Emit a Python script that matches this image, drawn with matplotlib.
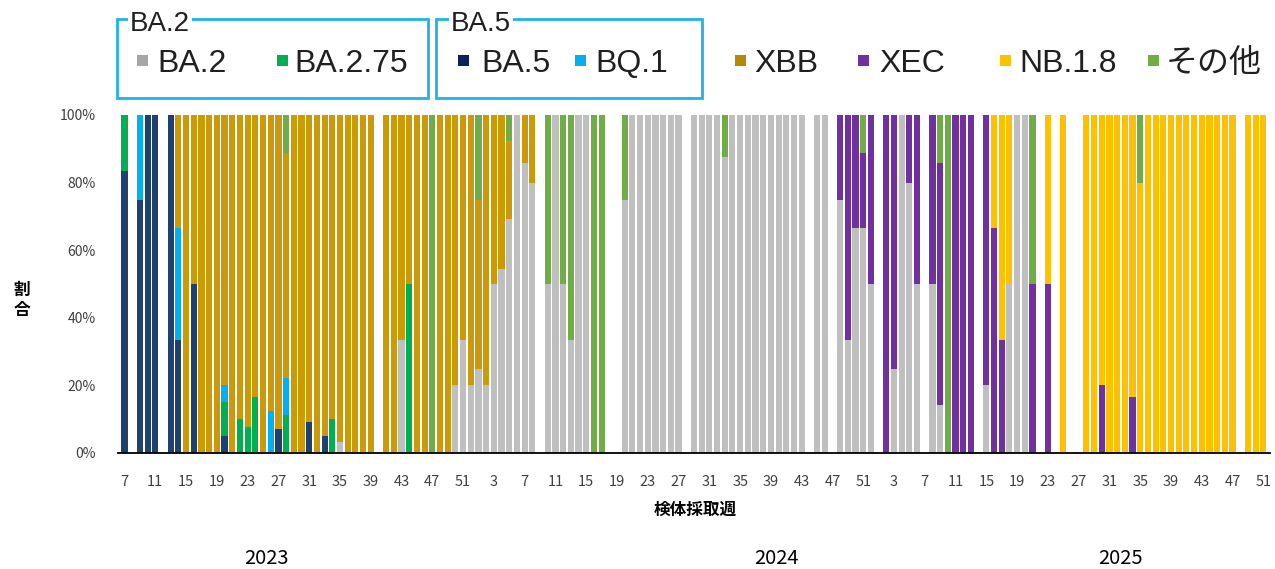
import matplotlib
matplotlib.use('Agg')
import matplotlib.pyplot as plt
import numpy as np
from matplotlib.patches import Rectangle

plt.rcParams['font.family'] = ['Noto Sans CJK JP', 'DejaVu Sans']

W, H = 1275, 569

# colours per lineage
colors = {
    'BA.2': '#BFBFBF',
    'BA.2.75': '#00B050',
    'BA.5': '#1F4170',
    'BQ.1': '#00B0F0',
    'XBB': '#CC9A06',
    'XEC': '#7030A0',
    'NB.1.8': '#FFC000',
    'その他': '#70AD47',
}
legend_colors = dict(colors, **{'BA.2': '#A6A6A6', 'BA.5': '#0D1F5C', 'XBB': '#B8860B'})
stack_order = ['BA.2', 'BA.5', 'BA.2.75', 'BQ.1', 'XBB', 'XEC', 'NB.1.8', 'その他']

# ---- 2023 (sampled weeks) ----
weeks_2023 = [7, 9, 10, 11, 13, 14,
              15, 16, 17, 18, 19, 20, 21, 22, 23, 24,
              25, 26, 27, 28, 29, 30, 31, 32, 33, 34,
              35, 36, 37, 38, 39,
              41, 42, 43, 44, 45, 46, 47, 48, 49, 50, 51, 52]
ba2_2023 = [0, 0, 0, 0, 0, 0,
            0, 0, 0, 0, 0, 0, 0, 0, 0, 0,
            0, 0, 0, 0, 0, 0, 0, 0, 0, 0,
            3.3, 0, 0, 0, 0,
            0, 0, 33.3, 0, 0, 0, 0, 0, 0, 20, 33.3, 20]
ba5_2023 = [83.3, 75, 100, 100, 100, 33.3,
            0, 50, 0, 0, 0, 5, 0, 0, 0, 0,
            0, 0, 7.1, 0, 0, 0, 9.1, 0, 5, 0,
            0, 0, 0, 0, 0,
            0, 0, 0, 0, 0, 0, 0, 0, 0, 0, 0, 0]
ba275_2023 = [16.7, 0, 0, 0, 0, 0,
              0, 0, 0, 0, 0, 10, 0, 10, 7.7, 16.7,
              0, 0, 0, 11.1, 0, 0, 0, 0, 0, 10,
              0, 0, 0, 0, 0,
              0, 0, 0, 50, 0, 0, 0, 0, 0, 0, 0, 0]
bq1_2023 = [0, 25, 0, 0, 0, 33.3,
            0, 0, 0, 0, 0, 5, 0, 0, 0, 0,
            0, 12.5, 0, 11.1, 0, 0, 0, 0, 0, 0,
            0, 0, 0, 0, 0,
            0, 0, 0, 0, 0, 0, 0, 0, 0, 0, 0, 0]
xbb_2023 = [0, 0, 0, 0, 0, 33.4,
            100, 50, 100, 100, 100, 80, 100, 90, 92.3, 83.3,
            100, 87.5, 92.9, 66.7, 100, 100, 90.9, 100, 95, 90,
            96.7, 100, 100, 100, 100,
            100, 100, 66.7, 50, 100, 100, 0, 100, 100, 80, 66.7, 80]
other_2023 = [0, 0, 0, 0, 0, 0,
              0, 0, 0, 0, 0, 0, 0, 0, 0, 0,
              0, 0, 0, 11.1, 0, 0, 0, 0, 0, 0,
              0, 0, 0, 0, 0,
              0, 0, 0, 0, 0, 0, 100, 0, 0, 0, 0, 0]

# ---- 2024 ----
weeks_2024 = [1, 2, 3, 4, 5, 6, 7, 8,
              10, 11, 12, 13, 14, 15, 16, 17,
              20, 21, 22, 23, 24, 25, 26, 27,
              29, 30, 31, 32, 33, 34, 35, 36, 37, 38, 39, 40, 41, 42, 43,
              45, 46,
              48, 49, 50, 51, 52]
ba2_2024 = [25, 20, 50, 54.5, 69.2, 100, 85.7, 80,
            50, 100, 50, 33.3, 100, 100, 0, 0,
            75, 100, 100, 100, 100, 100, 100, 100,
            100, 100, 100, 100, 87.5, 100, 100, 100, 100, 100, 100, 100, 100, 100, 100,
            100, 100,
            75, 33.3, 66.7, 66.7, 50]
xbb_2024 = [50, 80, 50, 45.5, 23.1, 0, 14.3, 20,
            0, 0, 0, 0, 0, 0, 0, 0,
            0, 0, 0, 0, 0, 0, 0, 0,
            0, 0, 0, 0, 0, 0, 0, 0, 0, 0, 0, 0, 0, 0, 0,
            0, 0,
            0, 0, 0, 0, 0]
xec_2024 = [0, 0, 0, 0, 0, 0, 0, 0,
            0, 0, 0, 0, 0, 0, 0, 0,
            0, 0, 0, 0, 0, 0, 0, 0,
            0, 0, 0, 0, 0, 0, 0, 0, 0, 0, 0, 0, 0, 0, 0,
            0, 0,
            25, 66.7, 33.3, 22.2, 50]
other_2024 = [25, 0, 0, 0, 7.7, 0, 0, 0,
              50, 0, 50, 66.7, 0, 0, 100, 100,
              25, 0, 0, 0, 0, 0, 0, 0,
              0, 0, 0, 0, 12.5, 0, 0, 0, 0, 0, 0, 0, 0, 0, 0,
              0, 0,
              0, 0, 0, 11.1, 0]

# ---- 2025 ----
weeks_2025 = [2, 3, 4, 5, 6,
              8, 9, 10, 11, 12, 13,
              15, 16, 17, 18, 19, 20, 21,
              23, 25,
              28, 29, 30, 31, 32, 33, 34, 35, 36, 37, 38, 39, 40, 41, 42, 43, 44, 45, 46, 47,
              49, 50, 51]
ba2_2025 = [0, 25, 100, 80, 50,
            50, 14.3, 0, 0, 0, 0,
            20, 0, 0, 50, 100, 100, 0,
            0, 0,
            0, 0, 0, 0, 0, 0, 0, 0, 0, 0, 0, 0, 0, 0, 0, 0, 0, 0, 0, 0,
            0, 0, 0]
xec_2025 = [100, 75, 0, 20, 50,
            50, 71.4, 0, 100, 100, 100,
            80, 66.7, 33.3, 0, 0, 0, 50,
            50, 0,
            0, 0, 20, 0, 0, 0, 16.7, 0, 0, 0, 0, 0, 0, 0, 0, 0, 0, 0, 0, 0,
            0, 0, 0]
nb18_2025 = [0, 0, 0, 0, 0,
             0, 0, 0, 0, 0, 0,
             0, 33.3, 66.7, 50, 0, 0, 0,
             50, 100,
             100, 100, 80, 100, 100, 100, 83.3, 80, 100, 100, 100, 100, 100, 100, 100, 100, 100, 100, 100, 100,
             100, 100, 100]
other_2025 = [0, 0, 0, 0, 0,
              0, 14.3, 100, 0, 0, 0,
              0, 0, 0, 0, 0, 0, 50,
              0, 0,
              0, 0, 0, 0, 0, 0, 0, 20, 0, 0, 0, 0, 0, 0, 0, 0, 0, 0, 0, 0,
              0, 0, 0]

tick_labels = ['7', '11', '15', '19', '23', '27', '31', '35', '39', '43', '47', '51',
               '3', '7', '11', '15', '19', '23', '27', '31', '35', '39', '43', '47', '51',
               '3', '7', '11', '15', '19', '23', '27', '31', '35', '39', '43', '47', '51']
years = ['2023', '2024', '2025']

years_data = {
    2023: (weeks_2023, {'BA.2': ba2_2023, 'BA.5': ba5_2023, 'BA.2.75': ba275_2023,
                        'BQ.1': bq1_2023, 'XBB': xbb_2023, 'その他': other_2023}),
    2024: (weeks_2024, {'BA.2': ba2_2024, 'XBB': xbb_2024, 'XEC': xec_2024,
                        'その他': other_2024}),
    2025: (weeks_2025, {'BA.2': ba2_2025, 'XEC': xec_2025, 'NB.1.8': nb18_2025,
                        'その他': other_2025}),
}

fig = plt.figure(figsize=(W / 100, H / 100), dpi=100)
ax = fig.add_axes([118 / W, (H - 453) / H, (1269.5 - 118) / W, (453 - 115) / H])

for year, (weeks, series) in years_data.items():
    x = np.array([(year - 2023) * 52 + w - 7 for w in weeks])
    bottom = np.zeros(len(weeks))
    for v in stack_order:
        if v not in series:
            continue
        vals = np.array(series[v], dtype=float)
        ax.bar(x, vals, bottom=bottom, width=0.8, color=colors[v], linewidth=0)
        bottom += vals

ax.set_xlim(-0.85, 148.8)
ax.set_ylim(0, 100)
for s in ['left', 'right', 'top']:
    ax.spines[s].set_visible(False)
ax.spines['bottom'].set_linewidth(1.3)
ax.spines['bottom'].set_color('black')

ax.set_xticks(np.arange(0, 4 * len(tick_labels), 4))
ax.set_xticklabels(tick_labels, fontsize=10.5, color='#404040')
ax.set_yticks(np.arange(0, 101, 20))
ax.set_yticklabels([f'{v}%' for v in range(0, 101, 20)], fontsize=10, color='#404040')
ax.tick_params(axis='x', length=0, pad=16)
ax.tick_params(axis='y', length=0, pad=16)


def fx(px):
    return px / W


def fy(py):
    return 1 - py / H


# axis titles
fig.text(fx(695), fy(510), '検体採取週', ha='center', va='center', fontsize=12, fontweight='bold')
fig.text(fx(22), fy(300), '割\n合', ha='center', va='center', fontsize=12,
         fontweight='bold', linespacing=1.1)

# year labels under the axis
for label, px in zip(years, [266, 776, 1121]):
    fig.text(fx(px), fy(558), label, ha='center', va='center', fontsize=14.5)

# legend group boxes
box_color = '#1FB4E8'
for (x0, x1, title, tx) in [(117, 428, 'BA.2', 130), (436, 702, 'BA.5', 451)]:
    fig.patches.append(Rectangle((fx(x0), fy(98)), fx(x1) - fx(x0), fy(19) - fy(98),
                                 transform=fig.transFigure, fill=False,
                                 edgecolor=box_color, linewidth=2))
    fig.text(fx(tx), fy(31), title, ha='left', va='baseline', fontsize=20,
             family=['Liberation Sans', 'Noto Sans CJK JP'], color='#202020',
             bbox=dict(facecolor='white', edgecolor='none', pad=1.5))

legend_items = [('BA.2', 137, 157), ('BA.2.75', 277, 294), ('BA.5', 458, 481),
                ('BQ.1', 575, 595), ('XBB', 735, 754), ('XEC', 858, 879),
                ('NB.1.8', 1000, 1019), ('その他', 1148, 1166)]
for name, sq, tx in legend_items:
    fig.patches.append(Rectangle((fx(sq), fy(66)), 11 / W, 11 / H,
                                 transform=fig.transFigure,
                                 facecolor=legend_colors[name], edgecolor='none'))
    fig.text(fx(tx), fy(72), name, ha='left', va='baseline', fontsize=23,
             family=['Liberation Sans', 'Noto Sans CJK JP'], color='#202020')

fig.savefig('out.png', dpi=100)
